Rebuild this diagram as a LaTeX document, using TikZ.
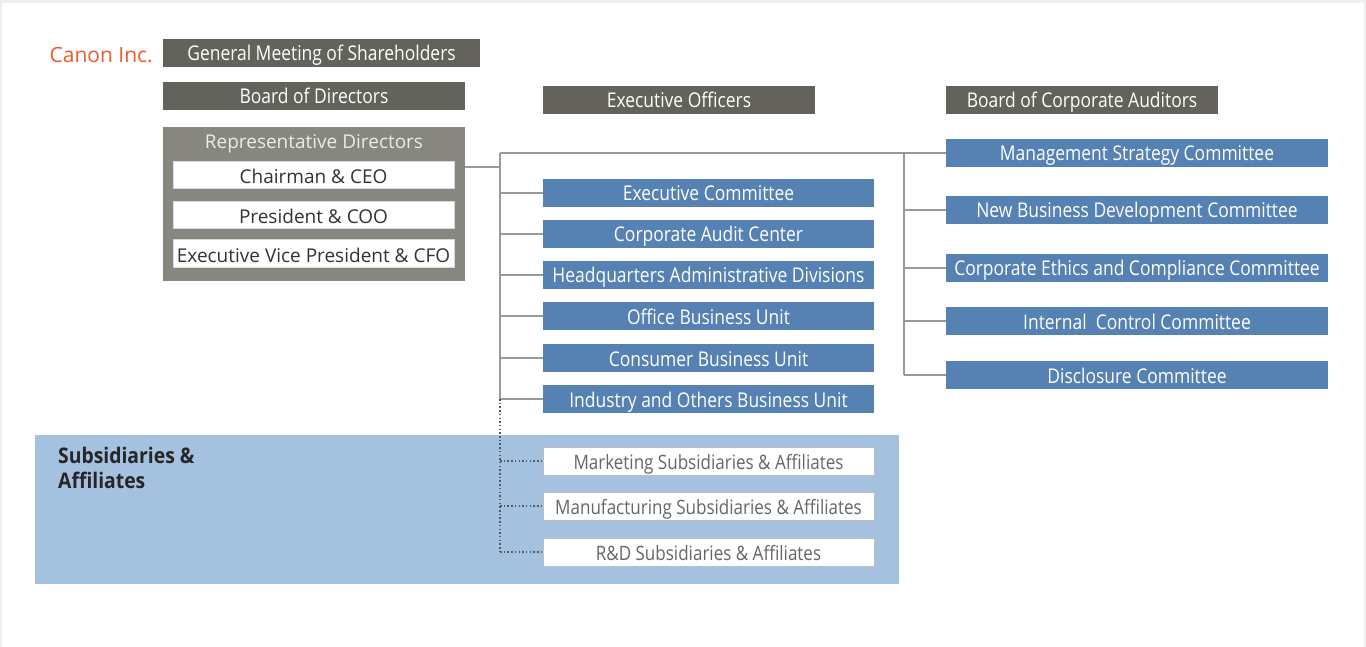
\documentclass[tikz,border=0pt]{standalone}
\usepackage{fontspec}
\setmainfont{Open Sans}
\newfontfamily\cond[FakeStretch=0.86]{Open Sans}
\newfontfamily\condb[FakeStretch=0.9]{Open Sans}
\definecolor{frame}{HTML}{EEF0EF}
\definecolor{darkbox}{HTML}{63635B}
\definecolor{repbox}{HTML}{87877F}
\definecolor{bluebox}{HTML}{5681B3}
\definecolor{band}{HTML}{A4C2E0}
\definecolor{conn}{HTML}{9A9A9A}
\definecolor{dotc}{HTML}{555A60}
\definecolor{canon}{HTML}{F05A28}
\definecolor{subtext}{HTML}{666666}
\tikzset{
  x=1pt, y=-1pt,
  box/.style={inner sep=0pt, outer sep=0pt, anchor=north west, text height=18pt, text depth=2pt},
  darkst/.style={box, fill=darkbox, text=white, font=\cond\fontsize{20.3}{22}\selectfont},
  bluest/.style={box, fill=bluebox, text=white, font=\cond\fontsize{20.3}{22}\selectfont},
  whitest/.style={box, fill=white, draw=black!15, line width=1pt, text=black!80, font=\fontsize{19}{22}\selectfont},
  subst/.style={box, fill=white, draw=black!25, line width=1pt, text=subtext, font=\cond\fontsize{19.8}{22}\selectfont},
  connst/.style={draw=conn, line width=1.5pt},
  dotst/.style={draw=dotc, line width=1.5pt, dash pattern=on 1.5pt off 2.2pt},
}
\newcommand{\bx}[7]{% style, name, x1, y1, x2, y2, text
  \node[#1, minimum width={#5-#3}, minimum height={#6-#4}] (#2) at (#3,#4) {#7};}
\begin{document}
\begin{tikzpicture}
\fill[frame] (0,0) rectangle (1366,647);
\fill[white] (2,3) rectangle (1364,647);
\useasboundingbox (0,0) rectangle (1366,647);

% subsidiaries band
\fill[band] (35,435) rectangle (899,584);
\node[anchor=base west, align=left, text=black!85, font=\condb\bfseries\fontsize{21.5}{25}\selectfont, inner sep=0pt] (subtitle) at (58,488) {Subsidiaries \&\\Affiliates};

\node[anchor=base east, text=canon, font=\fontsize{21}{22}\selectfont, inner sep=0pt] (canon) at (153,62.5) {Canon Inc.};

\bx{darkst}{gms}{163}{39}{480}{67}{General Meeting of Shareholders}
\bx{darkst}{bod}{163}{82}{465}{110}{Board of Directors}
\node[box, fill=repbox, minimum width=302, minimum height=154] (rep) at (163,127) {};
\node[anchor=base, text=white!92!black, font=\fontsize{19}{22}\selectfont, inner sep=0pt] (reptitle) at (314,149) {Representative Directors};
\bx{whitest}{ceo}{173}{162}{454}{189}{Chairman \& CEO}
\bx{whitest}{coo}{173}{202}{454}{229}{President \& COO}
\bx{whitest}{cfo}{173}{240}{454}{268}{Executive Vice President \& CFO}

\bx{darkst}{eo}{543}{86}{815}{114}{Executive Officers}
\bx{darkst}{bca}{946}{86}{1218}{114}{Board of Corporate Auditors}

\bx{bluest}{ec}{543}{179}{874}{207}{Executive Committee}
\bx{bluest}{cac}{543}{220}{874}{248}{Corporate Audit Center}
\bx{bluest}{hq}{543}{261}{874}{289}{Headquarters Administrative Divisions}
\bx{bluest}{obu}{543}{302}{874}{330}{Office Business Unit}
\bx{bluest}{cbu}{543}{344}{874}{372}{Consumer Business Unit}
\bx{bluest}{iobu}{543}{385}{874}{413}{Industry and Others Business Unit}

\bx{bluest}{msc}{946}{139}{1328}{167}{Management Strategy Committee}
\bx{bluest}{nbdc}{946}{196}{1328}{224}{New Business Development Committee}
\bx{bluest}{cecc}{946}{254}{1328}{282}{Corporate Ethics and Compliance Committee}
\bx{bluest}{icc}{946}{307}{1328}{335}{Internal\ \ Control Committee}
\bx{bluest}{dc}{946}{361}{1328}{389}{Disclosure Committee}

\bx{subst}{msa}{543}{447}{874}{475}{Marketing Subsidiaries \& Affiliates}
\bx{subst}{mfsa}{543}{492}{874}{520}{Manufacturing Subsidiaries \& Affiliates}
\bx{subst}{rdsa}{543}{538}{874}{566}{R\&D Subsidiaries \& Affiliates}

% connectors
\coordinate (lt) at (500,153);
\coordinate (rt) at (904,153);
\draw[connst] (rep.north east |- 0,167) -- (500,167);
\draw[connst] (lt) -- (msc.west |- lt);
\draw[connst] (lt) -- (lt |- iobu.west);
\draw[connst] (rt) -- (rt |- dc.west);
\foreach \n in {ec,cac,hq,obu,cbu,iobu} \draw[connst] (lt |- \n.west) -- (\n.west);
\foreach \n in {nbdc,cecc,icc,dc} \draw[connst] (rt |- \n.west) -- (\n.west);
\draw[dotst] (lt |- iobu.west) -- (lt |- rdsa.west);
\foreach \n in {msa,mfsa,rdsa} \draw[dotst] (lt |- \n.west) -- (\n.west);
\end{tikzpicture}
\end{document}
